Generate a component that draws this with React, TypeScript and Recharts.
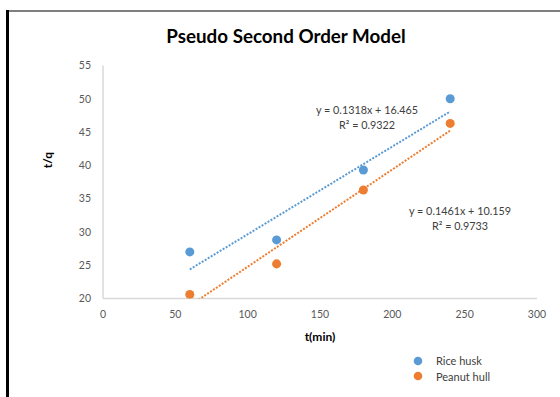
import React from "react";
import {
  ComposedChart,
  Scatter,
  XAxis,
  YAxis,
  Legend,
  ReferenceDot,
  Label,
} from "recharts";

const timeValues = [60, 120, 180, 240];
const riceHusk = [27.0, 28.8, 39.3, 50.0];
const peanutHull = [20.6, 25.2, 36.3, 46.3];

const riceTrend = { slope: 0.1318, intercept: 16.465, r2: 0.9322 };
const peanutTrend = { slope: 0.1461, intercept: 10.159, r2: 0.9733 };

const xTicks = [0, 50, 100, 150, 200, 250, 300];
const yTicks = [20, 25, 30, 35, 40, 45, 50, 55];

const BLUE = "#5B9BD5";
const ORANGE = "#ED7D31";
const FONT = "Lato, 'Open Sans', sans-serif";

const riceData = timeValues.map((x, i) => ({ x, y: riceHusk[i] }));
const peanutData = timeValues.map((x, i) => ({ x, y: peanutHull[i] }));

const trendPoints = (t: { slope: number; intercept: number }) => [
  { x: timeValues[0], y: t.slope * timeValues[0] + t.intercept },
  { x: timeValues[timeValues.length - 1], y: t.slope * timeValues[timeValues.length - 1] + t.intercept },
];

const riceTrendData = trendPoints(riceTrend);
const peanutTrendData = trendPoints(peanutTrend);

const eqText = (t: { slope: number; intercept: number }) =>
  `y = ${t.slope}x + ${t.intercept.toFixed(3)}`;
const r2Text = (t: { r2: number }) => `R² = ${t.r2}`;

const legendItems = [
  { name: "Rice husk", color: BLUE },
  { name: "Peanut hull", color: ORANGE },
];

const LegendContent = () => (
  <div style={{ fontFamily: FONT, fontSize: 11, color: "#404040" }}>
    {legendItems.map((it) => (
      <div key={it.name} style={{ display: "flex", alignItems: "center", height: 15.5 }}>
        <svg width={10} height={10} style={{ marginRight: 13 }}>
          <circle cx={5} cy={5} r={4.3} fill={it.color} />
        </svg>
        <span>{it.name}</span>
      </div>
    ))}
  </div>
);

const annotationLabel = (text: string) => ({
  value: text,
  position: "center" as const,
  fontSize: 10.8,
  fill: "#404040",
  fontFamily: FONT,
});

export default function App() {
  return (
    <div style={{ position: "absolute", left: 0, top: 0, width: 560, height: 397, background: "#fff" }}>
      <div style={{ position: "absolute", left: 6, top: 10, width: 554, height: 2, background: "#7f7f7f" }} />
      <div style={{ position: "absolute", left: 6, top: 10, width: 3, height: 387, background: "#000" }} />
      <div
        style={{
          position: "absolute",
          left: 0,
          width: 560,
          top: 24,
          textAlign: "center",
          fontFamily: FONT,
          fontWeight: 700,
          fontSize: 18.8,
          color: "#000",
          paddingLeft: 12,
          boxSizing: "border-box",
        }}
      >
        Pseudo Second Order Model
      </div>
      <div style={{ position: "absolute", left: 0, top: 0 }}>
        <ComposedChart
          width={560}
          height={397}
          margin={{ top: 65.5, right: 23, bottom: 68.5, left: 73 }}
        >
          <XAxis
            type="number"
            dataKey="x"
            domain={[0, 300]}
            ticks={xTicks}
            allowDataOverflow
            height={30}
            stroke="#d9d9d9"
            strokeWidth={1.5}
            tickLine={false}
            tickSize={6}
            tickMargin={6}
            tick={{ fill: "#595959", fontSize: 10.5, fontFamily: FONT }}
          >
            <Label
              value="t(min)"
              position="bottom"
              offset={4}
              style={{ fontFamily: FONT, fontWeight: 700, fontSize: 12, fill: "#000" }}
            />
          </XAxis>
          <YAxis
            type="number"
            dataKey="y"
            domain={[20, 55]}
            ticks={yTicks}
            allowDataOverflow
            width={30}
            stroke="#d9d9d9"
            strokeWidth={1.5}
            tickLine={false}
            tickSize={6}
            tickMargin={6}
            tick={{ fill: "#595959", fontSize: 10.5, fontFamily: FONT }}
          >
            <Label
              content={(props: any) => {
                const vb = props.viewBox || {};
                const cx = vb.x - 26;
                const cy = vb.y + vb.height / 2 - 22;
                return (
                  <text
                    x={cx}
                    y={cy}
                    transform={`rotate(-90, ${cx}, ${cy})`}
                    textAnchor="middle"
                    dominantBaseline="central"
                    style={{ fontFamily: FONT, fontWeight: 700, fontSize: 12, fill: "#000" }}
                  >
                    t/q
                  </text>
                );
              }}
            />
          </YAxis>
          <Scatter
            name="Rice husk trend"
            data={riceTrendData}
            line={{ stroke: BLUE, strokeWidth: 2, strokeDasharray: "2 1.5" }}
            shape={() => <g />}
            legendType="none"
            isAnimationActive={false}
          />
          <Scatter
            name="Peanut hull trend"
            data={peanutTrendData}
            line={{ stroke: ORANGE, strokeWidth: 2, strokeDasharray: "2 1.5" }}
            shape={() => <g />}
            legendType="none"
            isAnimationActive={false}
          />
          <Scatter name="Rice husk" data={riceData} fill={BLUE} isAnimationActive={false} />
          <Scatter name="Peanut hull" data={peanutData} fill={ORANGE} isAnimationActive={false} />
          <ReferenceDot x={182.5} y={48.3} r={0} fill="none" stroke="none" label={annotationLabel(eqText(riceTrend))} />
          <ReferenceDot x={182.5} y={46.0} r={0} fill="none" stroke="none" label={annotationLabel(r2Text(riceTrend))} />
          <ReferenceDot x={246.8} y={33.1} r={0} fill="none" stroke="none" label={annotationLabel(eqText(peanutTrend))} />
          <ReferenceDot x={246.8} y={30.85} r={0} fill="none" stroke="none" label={annotationLabel(r2Text(peanutTrend))} />
          <Legend
            layout="vertical"
            align="center"
            verticalAlign="middle"
            content={<LegendContent />}
            wrapperStyle={{ position: "absolute", left: 413, top: 353, width: 120 }}
          />
        </ComposedChart>
      </div>
    </div>
  );
}
